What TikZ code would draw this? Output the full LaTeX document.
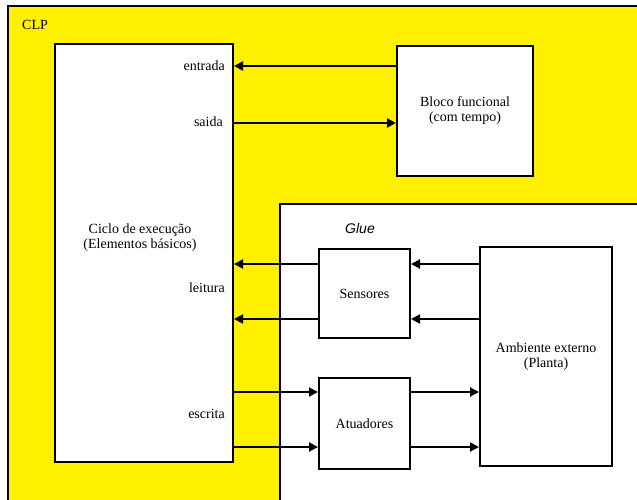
\documentclass[tikz,border=0pt]{standalone}
\usepackage{fontspec}
\setmainfont{Liberation Serif}
\newfontfamily\gluefont{Liberation Sans}
\usetikzlibrary{arrows.meta}
\definecolor{clpyellow}{RGB}{255,240,0}
\tikzset{
  blk/.style={draw=black, line width=2pt, fill=white, align=center, inner sep=0pt,
    font=\fontsize{14}{15}\selectfont},
  arr/.style={draw=black, line width=2pt, -{Triangle[length=9pt,width=9pt]}},
  lbl/.style={font=\fontsize{14}{15}\selectfont, inner sep=0pt, anchor=east},
}
\begin{document}
\begin{tikzpicture}[x=1pt,y=-1pt]
\useasboundingbox (0,0) rectangle (637,499);
\clip (0,0) rectangle (637,499);
\fill[white] (0,0) rectangle (637,499);
% CLP frame
\draw[fill=clpyellow, line width=2pt] (8,6) rectangle (660,520);
\node[font=\fontsize{14}{15}\selectfont, anchor=west, inner sep=0pt] (clp) at (22,25) {CLP};
% Glue region
\draw[fill=white, line width=2pt] (280,204) rectangle (660,520);
\node[font=\gluefont\itshape\fontsize{14}{15}\selectfont, inner sep=0pt] (glue) at (360,228) {Glue};
% blocks
\node[blk, minimum width=178pt, minimum height=418pt, anchor=north west] (ciclo) at (54,43) {};
\node[font=\fontsize{14}{15}\selectfont, align=center, inner sep=0pt] (ciclotxt) at (140,238) {Ciclo de execução\\(Elementos básicos)};
\node[blk, minimum width=136pt, minimum height=130pt, anchor=north west] (bloco) at (396,45) {Bloco funcional\\(com tempo)};
\node[blk, minimum width=91pt, minimum height=89pt, anchor=north west] (sens) at (318,248) {Sensores};
\node[blk, minimum width=91pt, minimum height=91pt, anchor=north west] (atua) at (318,377) {Atuadores};
\node[blk, minimum width=132pt, minimum height=219pt, anchor=north west] (amb) at (479,246) {Ambiente externo\\(Planta)};
% levels
\coordinate (yen) at (0,66);
\coordinate (ysa) at (0,123);
\coordinate (ys1) at (0,264);
\coordinate (ys2) at (0,319);
\coordinate (ya1) at (0,392);
\coordinate (ya2) at (0,447);
% labels
\node[lbl] (lent) at (225,66) {entrada};
\node[lbl] (lsai) at (223,122) {saida};
\node[lbl] (llei) at (225,288) {leitura};
\node[lbl] (lesc) at (225,414) {escrita};
% arrows
\draw[arr] (bloco.west |- yen) -- (ciclo.east |- yen);
\draw[arr] (ciclo.east |- ysa) -- (bloco.west |- ysa);
\draw[arr] (sens.west |- ys1) -- (ciclo.east |- ys1);
\draw[arr] (sens.west |- ys2) -- (ciclo.east |- ys2);
\draw[arr] (amb.west |- ys1) -- (sens.east |- ys1);
\draw[arr] (amb.west |- ys2) -- (sens.east |- ys2);
\draw[arr] (ciclo.east |- ya1) -- (atua.west |- ya1);
\draw[arr] (ciclo.east |- ya2) -- (atua.west |- ya2);
\draw[arr] (atua.east |- ya1) -- (amb.west |- ya1);
\draw[arr] (atua.east |- ya2) -- (amb.west |- ya2);
\end{tikzpicture}
\end{document}
